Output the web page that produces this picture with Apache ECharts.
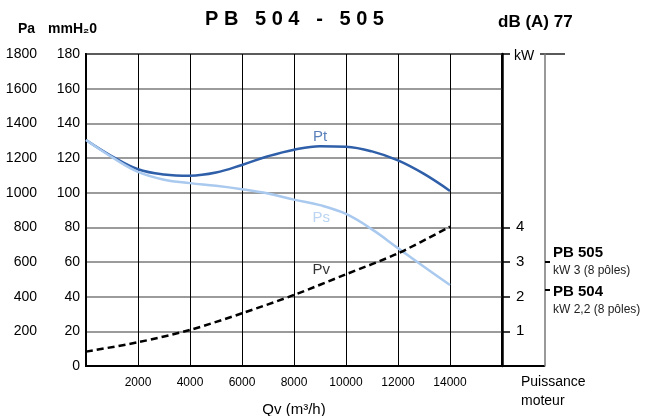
<!DOCTYPE html>
<html>
<head>
<meta charset="utf-8">
<script src="https://cdn.jsdelivr.net/npm/echarts@6/dist/echarts.min.js"></script>
<style>
  html, body { margin: 0; padding: 0; background: #fff; }
  #chart { width: 646px; height: 416px; }
</style>
</head>
<body>
<div id="chart"></div>
<script>
// debit (m3/h) et pressions en mmH2O
var qv = [0, 1000, 2000, 3000, 4000, 5000, 6000, 7000, 8000, 9000, 10000, 11000, 12000, 13000, 14000];
var pt = [130.4, 121, 113.5, 110.5, 109.8, 111.6, 116, 121, 124.8, 126.8, 126.5, 123.8, 118.6, 110.8, 101];
var ps = [130.4, 120.5, 112, 107.5, 105.5, 104, 102, 99.5, 96, 92.8, 87.7, 78.8, 68, 57.3, 46.7];
var qvPv = [0, 2000, 4000, 6000, 8000, 10000, 12000, 14000];
var pv = [8.3, 13.7, 20.8, 30.4, 41, 52.9, 65, 80.4];

var curveNames = ['Pt', 'Ps', 'Pv'];
var curveLabelPos = [[9000, 132], [9050, 85.5], [9050, 55.5]];

var kwTicks = [1, 2, 3, 4];
var motorKw = [3, 2.2];
var motorNames = ['PB 505', 'PB 504'];
var motorText = ['kW 3 (8 pôles)', 'kW 2,2 (8 pôles)'];

var NARROW = "'Liberation Sans Narrow', 'Arial Narrow', 'Liberation Sans', sans-serif";
var ARIAL = "'Liberation Sans', Arial, sans-serif";

function pairs(xs, ys) {
    return xs.map(function (x, i) { return [x, ys[i]]; });
}

// un axe par moteur, tous deux a droite du cadre kW
function motorAxis(i) {
    return {
        type: 'value', position: 'right', offset: 43,
        min: 0, max: 9,
        axisLine: { show: i === 0, lineStyle: { color: '#777', width: 1.5 } },
        axisTick: { show: true, customValues: [motorKw[i]], length: 5, lineStyle: { color: '#000', width: 2 } },
        axisLabel: {
            customValues: [motorKw[i]],
            hideOverlap: false,
            margin: 8,
            formatter: function () {
                var s = '{a|' + motorNames[i] + '}\n{b|' + motorText[i] + '}';
                return i === 1 ? '{s| }\n' + s : s;
            },
            rich: {
                a: { fontFamily: ARIAL, fontSize: 15, fontWeight: 'bold', color: '#000', lineHeight: 18 },
                b: { fontFamily: NARROW, fontSize: 12, color: '#222', lineHeight: 18 },
                s: { fontSize: 12, lineHeight: 22 }
            }
        },
        splitLine: { show: false }
    };
}

var myChart = echarts.init(document.getElementById('chart'));

var option = {
    animation: false,
    title: {
        text: 'P B   5 0 4   -   5 0 5',
        left: 200,
        top: 4,
        textStyle: { fontFamily: ARIAL, fontSize: 20, fontWeight: 'bold', color: '#000' }
    },
    grid: {
        left: 86, right: 144, top: 54, bottom: 50,
        outerBoundsMode: 'none',
        show: true, borderColor: '#000', borderWidth: 2
    },
    xAxis: {
        type: 'value',
        min: 0, max: 16000, interval: 2000,
        name: 'Qv (m³/h)',
        nameLocation: 'middle',
        nameGap: 36,
        nameTextStyle: { fontFamily: NARROW, fontSize: 15, color: '#000' },
        axisLine: { lineStyle: { color: '#000', width: 2 } },
        axisTick: { show: false },
        axisLabel: {
            margin: 11,
            fontFamily: NARROW, fontSize: 12, color: '#000',
            formatter: function (v) { return (v === 0 || v === 16000) ? '' : String(v); }
        },
        splitLine: { lineStyle: { color: '#000', width: 1 } }
    },
    yAxis: [
        {   // mmH2O
            type: 'value', position: 'left',
            min: 0, max: 180, interval: 20,
            axisLine: { show: true, lineStyle: { color: '#000', width: 2 } },
            axisTick: { show: false },
            axisLabel: { margin: 6, fontFamily: NARROW, fontSize: 14, color: '#000' },
            splitLine: { lineStyle: { color: '#7a7a7a', width: 1.5 } }
        },
        {   // Pa
            type: 'value', position: 'left', offset: 43,
            min: 0, max: 1800, interval: 200,
            axisLine: { show: false },
            axisTick: { show: false },
            axisLabel: {
                margin: 6, fontFamily: NARROW, fontSize: 14, color: '#000',
                formatter: function (v) { return v === 0 ? '' : String(v); }
            },
            splitLine: { show: false }
        },
        {   // kW
            type: 'value', position: 'right',
            min: 0, max: 9, interval: 1,
            axisLine: { show: true, lineStyle: { color: '#000', width: 2.5 } },
            axisTick: { show: true, customValues: kwTicks.concat([9]), length: 8, lineStyle: { color: '#000', width: 1.5 } },
            axisLabel: { customValues: kwTicks, margin: 14, fontFamily: NARROW, fontSize: 15, color: '#000' },
            splitLine: { show: false }
        },
        motorAxis(0),
        motorAxis(1)
    ],
    series: [
        {
            name: 'Pt', type: 'line', smooth: 0.4, symbol: 'none',
            data: pairs(qv, pt),
            lineStyle: { color: '#2f5fa9', width: 2.5 }
        },
        {
            name: 'Ps', type: 'line', smooth: 0.4, symbol: 'none',
            data: pairs(qv, ps),
            lineStyle: { color: '#a9c9ee', width: 2.5 }
        },
        {
            name: 'Pv', type: 'line', smooth: 0.3, symbol: 'none',
            data: pairs(qvPv, pv),
            lineStyle: { color: '#000', width: 2.5, type: [7, 4] }
        },
        {
            type: 'scatter', symbolSize: 0, silent: true,
            data: curveLabelPos.map(function (p, i) {
                return {
                    value: p,
                    label: {
                        show: true, position: [0, 0], align: 'center', verticalAlign: 'middle',
                        formatter: curveNames[i],
                        fontFamily: NARROW, fontSize: 15,
                        color: ['#2f5fa9', '#a9c9ee', '#000'][i]
                    }
                };
            })
        }
    ]
};

myChart.setOption(option);

// habillage : en-tetes et traits du cadre de la puissance moteur
var xRight = myChart.convertToPixel({ xAxisIndex: 0 }, 16000);
var yTop = myChart.convertToPixel({ yAxisIndex: 2 }, 9);
var yBot = myChart.convertToPixel({ yAxisIndex: 2 }, 0);
var xMotor = xRight + 43;
var font = function (f, s, w) { return (w || 'normal') + ' ' + s + 'px ' + f; };

myChart.setOption({
    graphic: [
        { type: 'text', left: 18, top: 22, style: { text: 'Pa', font: font(NARROW, 14, 'bold'), fill: '#000' } },
        { type: 'text', left: 48, top: 22, style: { text: 'mmH₂0', font: font(NARROW, 14, 'bold'), fill: '#000' } },
        { type: 'text', left: 498, top: 14, style: { text: 'dB (A) 77', font: font(NARROW, 17, 'bold'), fill: '#000' } },
        { type: 'text', x: xRight + 22, y: yTop + 2, style: { text: 'kW', font: font(NARROW, 14), fill: '#000', align: 'center', verticalAlign: 'middle' } },
        { type: 'line', shape: { x1: xMotor - 5, y1: yTop, x2: xMotor + 20, y2: yTop }, style: { stroke: '#222', lineWidth: 1.5 } },
        { type: 'line', shape: { x1: xRight, y1: yBot, x2: xMotor, y2: yBot }, style: { stroke: '#000', lineWidth: 2 } },
        { type: 'text', left: 521, top: 373, style: { text: 'Puissance\nmoteur', font: font(ARIAL, 14), lineHeight: 19, fill: '#000' } }
    ]
});
</script>
</body>
</html>
